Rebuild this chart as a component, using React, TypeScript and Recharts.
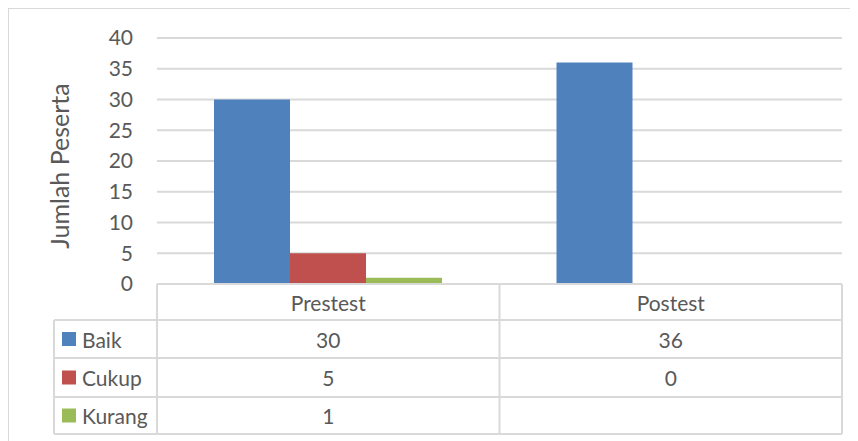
import React from "react";
import { Bar, BarChart, CartesianGrid, XAxis, YAxis } from "recharts";

const categories = ["Prestest", "Postest"];
const baik = [30, 36];
const cukup = [5, 0];
const kurang: (number | null)[] = [1, null];
const yTicks = [0, 5, 10, 15, 20, 25, 30, 35, 40];

const series = [
  { key: "Baik", values: baik, color: "#4f81bd" },
  { key: "Cukup", values: cukup, color: "#c0504d" },
  { key: "Kurang", values: kurang, color: "#9bbb59" },
];

const data = categories.map((name, i) => ({
  name,
  Baik: baik[i],
  Cukup: cukup[i],
  Kurang: kurang[i],
}));

const FONT = "Lato, 'Open Sans', sans-serif";
const TEXT = "#595959";
const LINE = "#d9d9d9";

// plot area in chart coords (chart sits 1px inside the border box at page 8,8)
const PLOT_LEFT = 148;
const PLOT_RIGHT = 833;
const PLOT_TOP = 29;
const PLOT_BOTTOM = 275;
const CHART_W = 849;
const CHART_H = 432;

function DataTable() {
  const legendLeft = 45;
  const rowH = [PLOT_BOTTOM, 311, 349, 388, 425];
  const colW = (PLOT_RIGHT - PLOT_LEFT) / categories.length;
  const colX = categories.map((_, i) => PLOT_LEFT + colW * i);
  return (
    <svg
      width={CHART_W}
      height={CHART_H}
      style={{ position: "absolute", left: 0, top: 0, pointerEvents: "none" }}
      fontFamily={FONT}
    >
      <text
        transform="translate(50, 157) rotate(-90)"
        textAnchor="middle"
        dominantBaseline="central"
        fontSize={25}
        fill={TEXT}
      >
        Jumlah Peserta
      </text>
      {/* horizontal lines */}
      <line x1={PLOT_LEFT} x2={PLOT_RIGHT} y1={rowH[0]} y2={rowH[0]} stroke={LINE} strokeWidth={2} />
      {rowH.slice(1).map((y) => (
        <line key={y} x1={legendLeft} x2={PLOT_RIGHT} y1={y} y2={y} stroke={LINE} strokeWidth={2} />
      ))}
      {/* vertical lines */}
      <line x1={legendLeft} x2={legendLeft} y1={rowH[1]} y2={rowH[4]} stroke={LINE} strokeWidth={2} />
      {[...colX, PLOT_RIGHT].map((x) => (
        <line key={x} x1={x} x2={x} y1={rowH[0]} y2={rowH[4]} stroke={LINE} strokeWidth={2} />
      ))}
      {categories.map((c, i) => (
        <text
          key={c}
          x={colX[i] + colW / 2}
          y={(rowH[0] + rowH[1]) / 2}
          textAnchor="middle"
          dominantBaseline="central"
          fontSize={21}
          fill={TEXT}
        >
          {c}
        </text>
      ))}
      {series.map((s, r) => {
        const cy = (rowH[r + 1] + rowH[r + 2]) / 2;
        return (
          <g key={s.key}>
            <rect x={53} y={cy - 7} width={14} height={14} fill={s.color} />
            <text x={73} y={cy} dominantBaseline="central" fontSize={21} fill={TEXT}>
              {s.key}
            </text>
            {s.values.map((v, i) =>
              v === null ? null : (
                <text
                  key={i}
                  x={colX[i] + colW / 2}
                  y={cy}
                  textAnchor="middle"
                  dominantBaseline="central"
                  fontSize={21}
                  fill={TEXT}
                >
                  {v}
                </text>
              )
            )}
          </g>
        );
      })}
    </svg>
  );
}

export default function App() {
  return (
    <div
      style={{
        position: "relative",
        width: CHART_W + 4,
        height: CHART_H + 4,
        border: `1px solid ${LINE}`,
        background: "#fff",
      }}
    >
      <BarChart
        width={CHART_W}
        height={CHART_H}
        data={data}
        margin={{ top: PLOT_TOP, right: CHART_W - PLOT_RIGHT, bottom: CHART_H - PLOT_BOTTOM, left: 60 }}
        barGap={0}
        barSize={76}
      >
        <CartesianGrid vertical={false} stroke={LINE} strokeWidth={2} />
        <XAxis dataKey="name" hide />
        <YAxis
          width={PLOT_LEFT - 60}
          domain={[0, 40]}
          ticks={yTicks}
          axisLine={false}
          tickLine={false}
          tickSize={0}
          tickMargin={24}
          tick={{ fill: TEXT, fontSize: 21, fontFamily: FONT }}
        />
        {series.map((s) => (
          <Bar key={s.key} dataKey={s.key} fill={s.color} isAnimationActive={false} />
        ))}
      </BarChart>
      <DataTable />
    </div>
  );
}
